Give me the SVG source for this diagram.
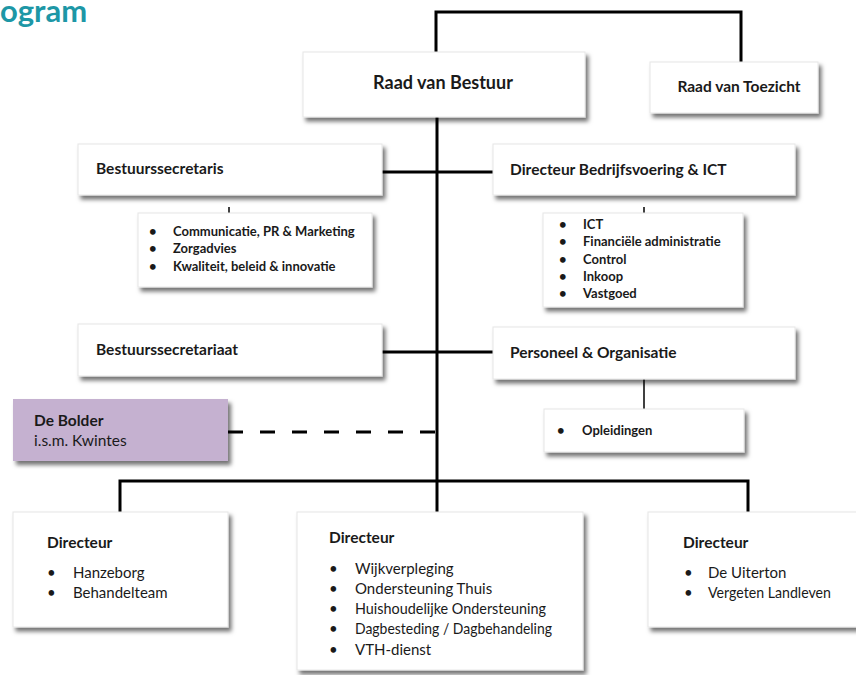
<svg xmlns="http://www.w3.org/2000/svg" width="856" height="675" viewBox="0 0 856 675">
<defs>
<filter id="sh" x="-10%" y="-20%" width="125%" height="150%">
<feDropShadow dx="3" dy="4" stdDeviation="2" flood-color="#000" flood-opacity="0.55"/>
</filter>
<style>
.box{fill:#ffffff;stroke:#e6e6e6;stroke-width:1;filter:url(#sh)}
.purple{fill:#c5b1d0;stroke:none;filter:url(#sh)}
.t{font-family:Lato,"Open Sans",sans-serif;fill:#1a1a1a}
.b{font-weight:bold}
.h{font-size:15.5px;font-weight:bold}
.s{font-size:13px;font-weight:bold}
.r{font-size:15px}
.ln{stroke:#000;stroke-width:3;fill:none}
.thin{stroke:#000;stroke-width:1.5;fill:none}
.dash{stroke:#000;stroke-width:3;fill:none;stroke-dasharray:15 17}
</style>
</defs>
<rect width="856" height="675" fill="#ffffff"/>
<text x="0" y="22" font-family="Lato,'Open Sans',sans-serif" font-size="31" font-weight="bold" fill="#1d97a6">ogram</text>

<g id="connectors">
<polyline class="ln" points="436,52 436,12 741,12 741,62"/>
<line class="ln" x1="437" y1="117" x2="437" y2="482"/>
<line class="ln" x1="382" y1="172" x2="493" y2="172"/>
<line class="ln" x1="382" y1="352" x2="493" y2="352"/>
<line class="dash" x1="228" y1="432" x2="437" y2="432"/>
<polyline class="ln" points="120,512 120,481 748,481 748,512"/>
<line class="ln" x1="437" y1="481" x2="437" y2="512"/>
<line class="thin" x1="229" y1="207" x2="229" y2="213"/>
<line class="thin" x1="644" y1="207" x2="644" y2="213"/>
<line class="thin" x1="644" y1="379" x2="644" y2="409"/>
</g>

<g id="raad-van-bestuur">
<rect class="box" x="303" y="52" width="282" height="65"/>
<text class="t b" x="443" y="89" font-size="18" text-anchor="middle">Raad van Bestuur</text>
</g>
<g id="raad-van-toezicht">
<rect class="box" x="650" y="62" width="168" height="51"/>
<text class="t b" x="739" y="92" font-size="15.5" text-anchor="middle">Raad van Toezicht</text>
</g>

<g id="bestuurssecretaris">
<rect class="box" x="78" y="144" width="304" height="51"/>
<text class="t h" x="96" y="174">Bestuurssecretaris</text>
</g>
<g id="staf-bestuurssecretaris">
<rect class="box" x="138" y="213" width="234" height="74"/>
<g class="t s">
<text x="149" y="236">•</text><text x="173" y="236">Communicatie, PR &amp; Marketing</text>
<text x="149" y="253">•</text><text x="173" y="253">Zorgadvies</text>
<text x="149" y="271">•</text><text x="173" y="271">Kwaliteit, beleid &amp; innovatie</text>
</g>
</g>

<g id="directeur-bedrijfsvoering">
<rect class="box" x="493" y="144" width="302" height="51"/>
<text class="t h" x="510" y="175">Directeur Bedrijfsvoering &amp; ICT</text>
</g>
<g id="staf-bedrijfsvoering">
<rect class="box" x="543" y="213" width="200" height="94"/>
<g class="t s">
<text x="559" y="229">•</text><text x="583" y="229">ICT</text>
<text x="559" y="246">•</text><text x="583" y="246">Financiële administratie</text>
<text x="559" y="264">•</text><text x="583" y="264">Control</text>
<text x="559" y="281">•</text><text x="583" y="281">Inkoop</text>
<text x="559" y="298">•</text><text x="583" y="298">Vastgoed</text>
</g>
</g>

<g id="bestuurssecretariaat">
<rect class="box" x="78" y="324" width="304" height="52"/>
<text class="t h" x="96" y="355">Bestuurssecretariaat</text>
</g>

<g id="personeel-organisatie">
<rect class="box" x="493" y="327" width="302" height="52"/>
<text class="t h" x="510" y="358">Personeel &amp; Organisatie</text>
</g>
<g id="opleidingen">
<rect class="box" x="544" y="409" width="200" height="43"/>
<g class="t s">
<text x="557" y="435">•</text><text x="582" y="435">Opleidingen</text>
</g>
</g>

<g id="de-bolder">
<rect class="purple" x="13" y="399" width="215" height="62"/>
<text class="t h" x="34" y="426">De Bolder</text>
<text class="t" x="34" y="446" font-size="15.5">i.s.m. Kwintes</text>
</g>

<g id="directeur-links">
<rect class="box" x="13" y="512" width="215" height="115"/>
<text class="t h" x="47" y="548">Directeur</text>
<g class="t r">
<text x="47" y="578">•</text><text x="73" y="578">Hanzeborg</text>
<text x="47" y="598">•</text><text x="73" y="598">Behandelteam</text>
</g>
</g>

<g id="directeur-midden">
<rect class="box" x="297" y="512" width="286" height="158"/>
<text class="t h" x="329" y="543">Directeur</text>
<g class="t r">
<text x="329" y="574">•</text><text x="355" y="574">Wijkverpleging</text>
<text x="329" y="594">•</text><text x="355" y="594">Ondersteuning Thuis</text>
<text x="329" y="614">•</text><text x="355" y="614" textLength="191" lengthAdjust="spacingAndGlyphs">Huishoudelijke Ondersteuning</text>
<text x="329" y="634">•</text><text x="355" y="634" textLength="197" lengthAdjust="spacingAndGlyphs">Dagbesteding / Dagbehandeling</text>
<text x="329" y="655">•</text><text x="355" y="655">VTH-dienst</text>
</g>
</g>

<g id="directeur-rechts">
<rect class="box" x="648" y="512" width="215" height="115"/>
<text class="t h" x="683" y="548">Directeur</text>
<g class="t r">
<text x="684" y="578">•</text><text x="708" y="578">De Uiterton</text>
<text x="684" y="598">•</text><text x="708" y="598" textLength="123" lengthAdjust="spacingAndGlyphs">Vergeten Landleven</text>
</g>
</g>
</svg>
